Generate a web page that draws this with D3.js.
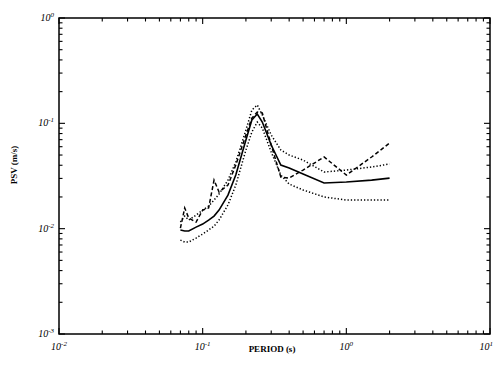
<!DOCTYPE html>
<html><head><meta charset="utf-8">
<script src="https://cdn.jsdelivr.net/npm/d3@7"></script>
<style>body{margin:0;background:#fff;} svg{display:block;}</style>
</head><body>
<svg id="c" width="494" height="382"></svg>
<script>
const periods = [0.07,0.075,0.08,0.09,0.1,0.11,0.12,0.13,0.15,0.17,0.2,0.22,0.24,0.26,0.3,0.35,0.4,0.5,0.7,1.0,1.5,2.0];
const meanPSV = [0.0097,0.0095,0.0095,0.01035,0.01106,0.01207,0.01317,0.0150,0.0208,0.0323,0.0694,0.1075,0.1226,0.1029,0.0622,0.0402,0.0376,0.0330,0.0271,0.0277,0.0289,0.0302];
const upperPSV = [0.01155,0.01317,0.01207,0.01346,0.0150,0.0164,0.0187,0.0213,0.0289,0.0429,0.0864,0.1337,0.1492,0.1199,0.0774,0.0558,0.0500,0.0448,0.0345,0.0360,0.0385,0.0411];
const lowerPSV = [0.00779,0.00746,0.00746,0.00814,0.00889,0.0097,0.01058,0.01207,0.0168,0.0259,0.0558,0.0827,0.1029,0.0902,0.0534,0.0323,0.0265,0.0233,0.0200,0.0187,0.0187,0.0187];
const dashedPSV = [0.01013,0.0157,0.0126,0.01155,0.0150,0.0157,0.0289,0.0223,0.0259,0.0402,0.0774,0.1123,0.1281,0.1253,0.0622,0.0309,0.0302,0.0360,0.0479,0.0323,0.0479,0.0650];
const xTickExps = [-2,-1,0,1];
const yTickExps = [-3,-2,-1,0];
const xTitle = "PERIOD (s)";
const yTitle = "PSV (m/s)";

const svg = d3.select("#c");
const L=59, R=490, T=18, B=334;
const x = d3.scaleLog().domain([0.01,10]).range([L,R]);
const y = d3.scaleLog().domain([0.001,1]).range([B,T]);

const g = svg.append("g");
function minorVals(lo,hi){const v=[];for(let e=lo;e<hi;e++){for(let k=2;k<=9;k++)v.push(k*Math.pow(10,e));}return v;}
const xm = minorVals(-2,1), ym = minorVals(-3,0);
const xM = xTickExps.map(e=>Math.pow(10,e)), yM = yTickExps.map(e=>Math.pow(10,e));
const tk = g.append("g").attr("stroke","#000").attr("stroke-width",1.1);
xm.forEach(v=>{tk.append("line").attr("x1",x(v)).attr("x2",x(v)).attr("y1",B).attr("y2",B-3.5);
  tk.append("line").attr("x1",x(v)).attr("x2",x(v)).attr("y1",T).attr("y2",T+3.5);});
ym.forEach(v=>{tk.append("line").attr("y1",y(v)).attr("y2",y(v)).attr("x1",L).attr("x2",L+3.5);
  tk.append("line").attr("y1",y(v)).attr("y2",y(v)).attr("x1",R).attr("x2",R-3.5);});
xM.forEach(v=>{tk.append("line").attr("x1",x(v)).attr("x2",x(v)).attr("y1",B).attr("y2",B-6);
  tk.append("line").attr("x1",x(v)).attr("x2",x(v)).attr("y1",T).attr("y2",T+6);});
yM.forEach(v=>{tk.append("line").attr("y1",y(v)).attr("y2",y(v)).attr("x1",L).attr("x2",L+6);
  tk.append("line").attr("y1",y(v)).attr("y2",y(v)).attr("x1",R).attr("x2",R-6);});
g.append("rect").attr("x",L).attr("y",T).attr("width",R-L).attr("height",B-T)
  .attr("fill","none").attr("stroke","#000").attr("stroke-width",1.5);

const font = "'Liberation Serif', 'DejaVu Serif', serif";
xTickExps.forEach((e,i)=>{
  const last = i===xTickExps.length-1;
  const t = svg.append("text").attr("x",last?493:x(Math.pow(10,e))).attr("y",B+16)
    .attr("text-anchor",last?"end":"middle")
    .attr("font-family",font).attr("font-size",10).attr("font-style","italic");
  t.append("tspan").text("10");
  t.append("tspan").attr("dy",-4).attr("font-size",7).text(String(e));
});
yTickExps.forEach(e=>{
  const t = svg.append("text").attr("x",L-5).attr("y",y(Math.pow(10,e))+3).attr("text-anchor","end")
    .attr("font-family",font).attr("font-size",10).attr("font-style","italic");
  t.append("tspan").text("10");
  t.append("tspan").attr("dy",-4).attr("font-size",7).text(String(e));
});
svg.append("text").attr("x",272).attr("y",352).attr("text-anchor","middle")
  .attr("font-family",font).attr("font-size",9).attr("font-weight","bold").text(xTitle);
svg.append("text").attr("transform","translate(17,165) rotate(-90)").attr("text-anchor","middle")
  .attr("font-family",font).attr("font-size",9).attr("font-weight","bold").text(yTitle);

const line = d3.line().x((d,i)=>x(periods[i])).y(d=>y(d));
const series = [
  {v:upperPSV, dash:"1.3,2", w:1.5},
  {v:lowerPSV, dash:"1.3,2", w:1.5},
  {v:dashedPSV, dash:"4,2.5", w:1.5},
  {v:meanPSV, dash:null, w:1.6}
];
series.forEach(s=>{
  const p = svg.append("path").datum(s.v).attr("d",line).attr("fill","none")
    .attr("stroke","#000").attr("stroke-width",s.w);
  if(s.dash) p.attr("stroke-dasharray",s.dash);
});
</script>
</body></html>
